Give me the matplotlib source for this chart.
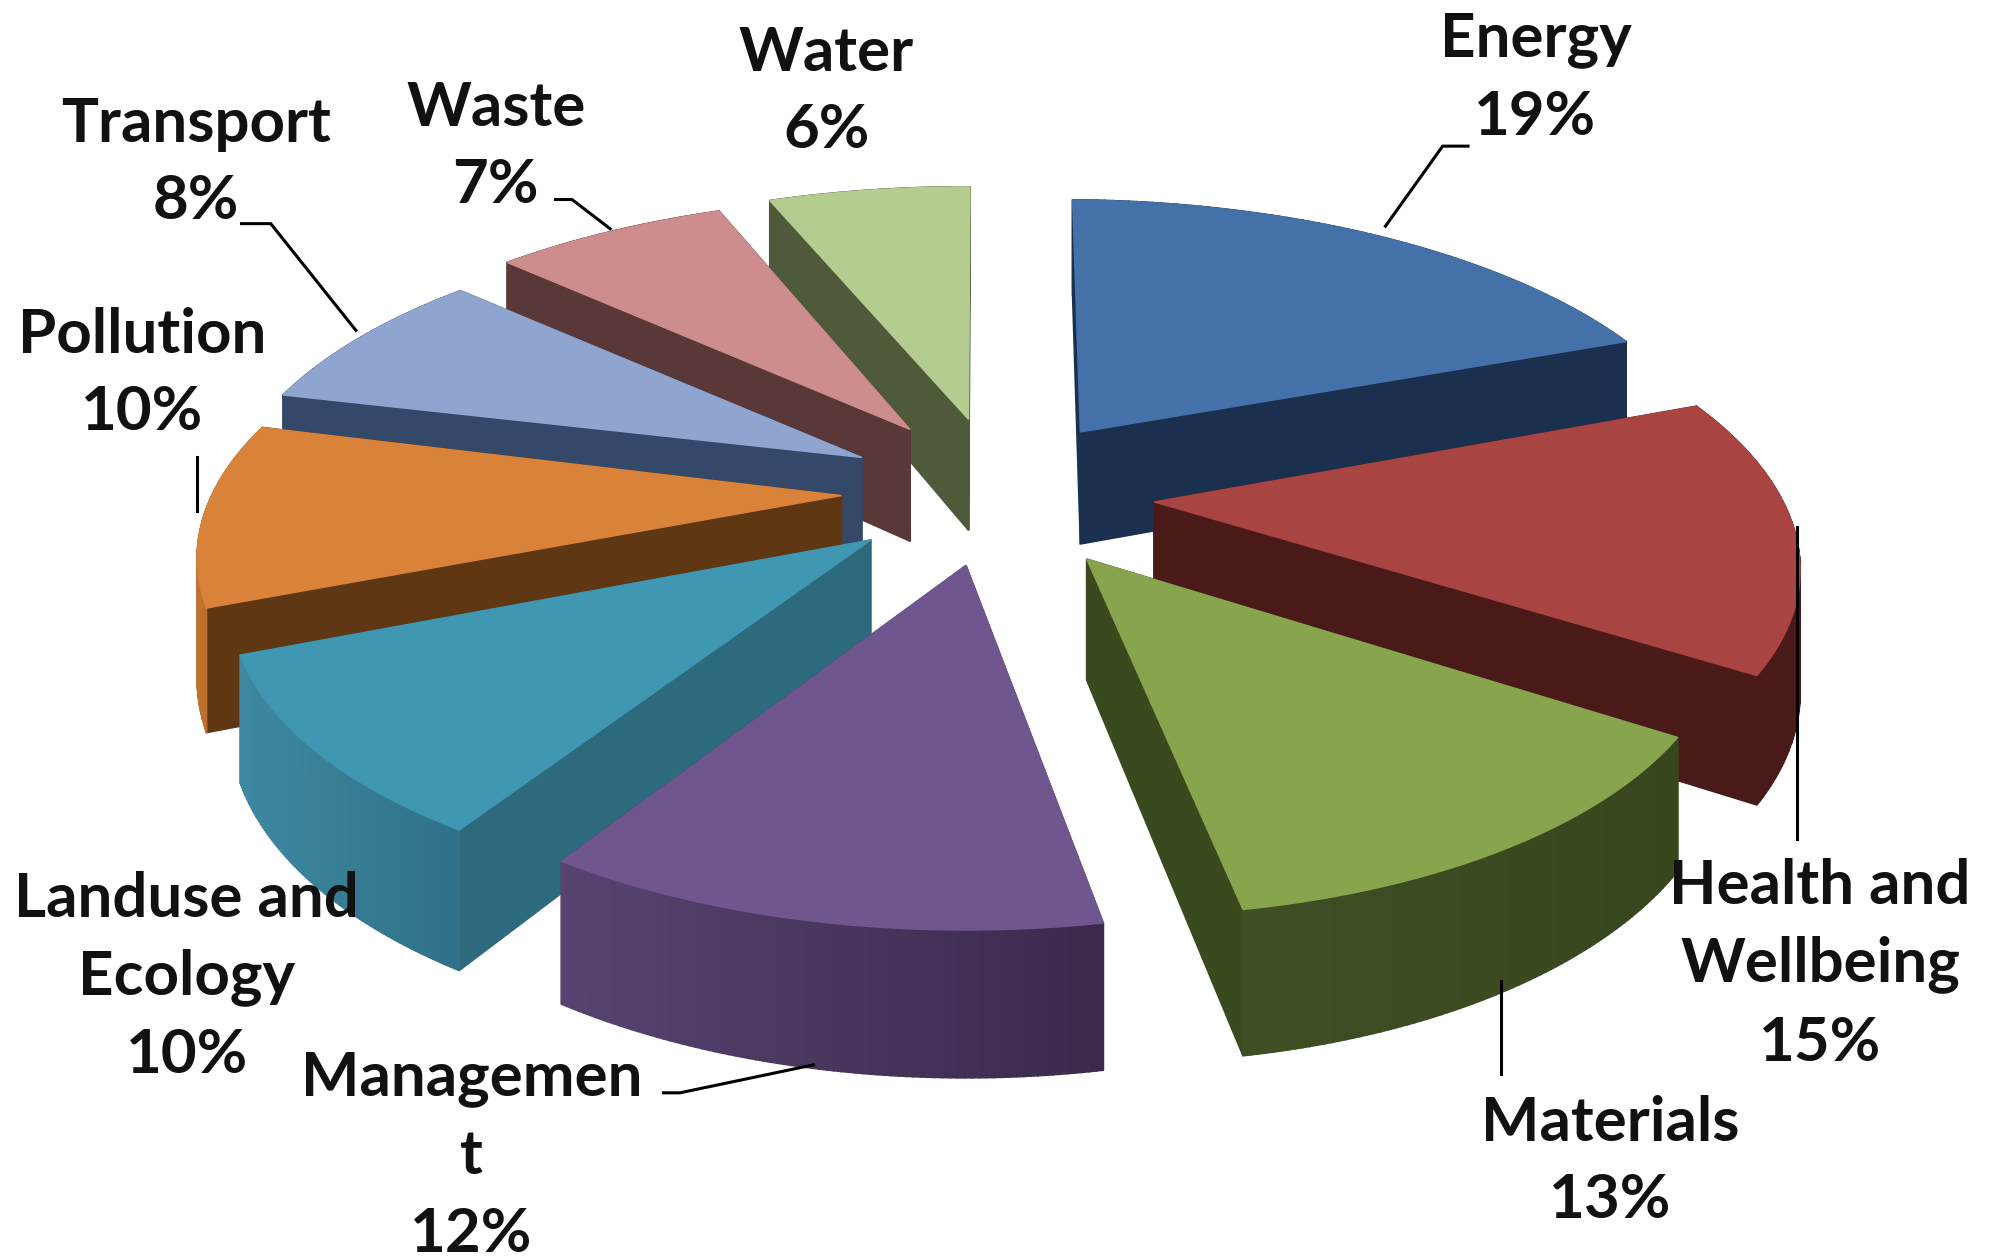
import numpy as np
import matplotlib
matplotlib.use("Agg")
import matplotlib.pyplot as plt
from matplotlib.colors import to_rgb

# Chart data
names = ["Energy", "Health and\nWellbeing", "Materials", "Managemen\nt", "Landuse and\nEcology",
         "Pollution", "Transport", "Waste", "Water"]
shares = [19, 15, 13, 12, 10, 10, 8, 7, 6]

# Colours: top face, cut faces, outer wall (two ends of the shading)
top_colors = ["#4472A8", "#A84543", "#88A54E", "#70568F", "#4097B1", "#D9823A", "#8FA5CF", "#CD8D8C", "#B5CC90"]
cut_colors = ["#1B304F", "#4A1A18", "#3A4A1F", "#4F3B66", "#2E6A7E", "#5F3712", "#34486A", "#5A3837", "#4E5A3A"]
wall_left = ["#1B304F", "#4A1A18", "#3F4F24", "#574370", "#3F88A2", "#C0742F", "#34486A", "#5A3837", "#4E5A3A"]
wall_right = ["#1B304F", "#4A1A18", "#38461E", "#3A2A4C", "#2F7188", "#9A5A22", "#34486A", "#5A3837", "#4E5A3A"]

# Where each slice's tip sits on the canvas (1568 wide layout), its size and a small turn
tips = [(850, 340), (908, 395), (855, 440), (760, 445), (685, 425), (662, 390), (678, 360), (716, 338), (762, 330)]
radius = [1.02, 0.98, 0.94, 0.95, 0.955, 0.985, 1.0, 1.025, 1.04]
turn = [1.0, 0.8, 0.8, 0.5, 0, 0, -0.8, 0, 0.2]
draw_order = [8, 0, 7, 6, 5, 1, 4, 3, 2]

# Simple perspective for the tilted disc
cx, cy = 760, 395
rx, ry = 505, 230
persp = 0.18
depth = 92

# label text centre positions
label_pos = [(1208, 62), (1432, 759), (1267, 914), (371, 910), (147, 769), (112, 294), (154, 128), (390, 115), (650, 72)]
leaders = [
    [(1155, 115), (1135, 115), (1090, 178)],
    [(1414, 660), (1414, 415)],
    [(1181, 845), (1181, 772)],
    [(522, 860), (535, 860), (640, 838)],
    [],
    [(155, 360), (155, 402)],
    [(190, 176), (213, 176), (280, 260)],
    [(437, 157), (450, 157), (480, 180)],
    [],
]


def scale_at(y):
    return 1 / (1 + persp * y)


def project(x, y):
    s = scale_at(y)
    return cx + rx * x * s, cy - ry * y * s


def unproject(px, py):
    y = (cy - py) / (ry - persp * (cy - py))
    x = (px - cx) / rx / scale_at(y)
    return x, y


def mix(a, b, t):
    a, b = np.array(to_rgb(a)), np.array(to_rgb(b))
    return tuple(a + (b - a) * t)


def draw_slice(ax, i, start, stop):
    gx, gy = unproject(*tips[i])
    angles = np.radians(np.linspace(start, stop, 80) + turn[i])
    ox = gx + radius[i] * np.sin(angles)
    oy = gy + radius[i] * np.cos(angles)

    tip = project(gx, gy)
    tip_s = scale_at(gy)
    outer = [project(a, b) for a, b in zip(ox, oy)]
    outer_s = [scale_at(b) for b in oy]

    # walls: list of (mean y, polygon, colour), painted from back to front
    walls = []
    for p, s in ((outer[0], outer_s[0]), (outer[-1], outer_s[-1])):
        poly = [tip, p, (p[0], p[1] + depth * s), (tip[0], tip[1] + depth * tip_s)]
        walls.append((np.mean([q[1] for q in poly]), poly, cut_colors[i]))
    for k in range(len(outer) - 1):
        p, q = outer[k], outer[k + 1]
        poly = [p, q, (q[0], q[1] + depth * outer_s[k + 1]), (p[0], p[1] + depth * outer_s[k])]
        t = (p[0] - min(o[0] for o in outer)) / (max(o[0] for o in outer) - min(o[0] for o in outer))
        walls.append((np.mean([c[1] for c in poly]), poly, mix(wall_left[i], wall_right[i], t)))
    walls.sort(key=lambda w: w[0])
    for _, poly, color in walls:
        xs, ys = zip(*poly)
        ax.fill(xs, ys, color=color, lw=1.2, zorder=2)

    xs, ys = zip(*([tip] + outer))
    ax.fill(xs, ys, color=top_colors[i], lw=1.0, zorder=2)


def main():
    plt.rcParams['font.family'] = ['Lato', 'DejaVu Sans']
    fig = plt.figure(figsize=(19.93, 12.58), dpi=100)
    ax = fig.add_axes([0, 0, 1, 1])
    ax.set_xlim(0, 1568)
    ax.set_ylim(990, 0)
    ax.axis("off")

    # slice angles clockwise from 12 o'clock
    edges = np.cumsum([0] + shares) / sum(shares) * 360
    for i in draw_order:
        draw_slice(ax, i, edges[i], edges[i + 1])

    for line in leaders:
        if line:
            xs, ys = zip(*line)
            ax.plot(xs, ys, color="black", lw=2.2, zorder=3)

    for name, share, pos in zip(names, shares, label_pos):
        ax.text(pos[0], pos[1], f"{name}\n{share}%", ha="center", va="center", fontsize=44.5,
                fontweight="bold", linespacing=1.46, color="#111111", zorder=4)

    fig.savefig("out.png", dpi=100, facecolor="white")


if __name__ == "__main__":
    main()
